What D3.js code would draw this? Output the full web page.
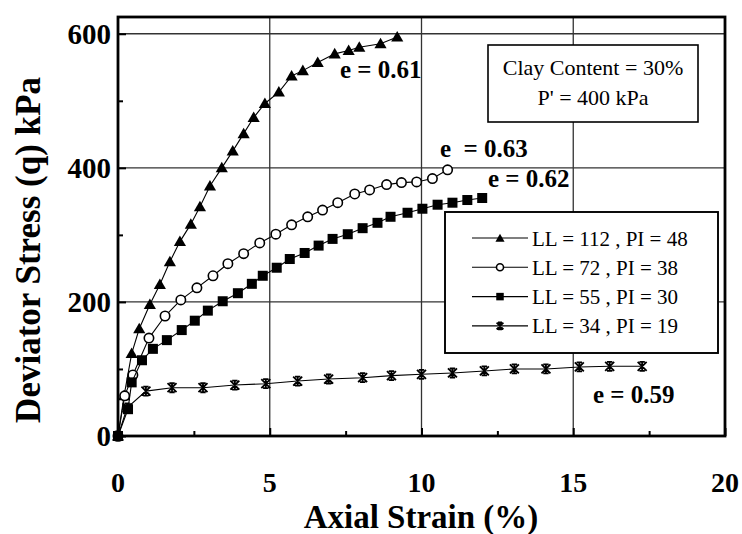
<!DOCTYPE html>
<html>
<head>
<meta charset="utf-8">
<script src="https://cdn.jsdelivr.net/npm/d3@7"></script>
<style>
  html, body { margin: 0; padding: 0; background: #fff; }
  svg { display: block; }
  text { font-family: "Liberation Serif", "Times New Roman", serif; fill: #000; }
</style>
</head>
<body>
<svg id="chart" width="742" height="534"></svg>
<script>
// Triaxial test results: deviator stress vs axial strain for four clays
const seriesNames = ["LL = 112 , PI = 48", "LL = 72 , PI = 38", "LL = 55 , PI = 30", "LL = 34 , PI = 19"];
const seriesKeys = ["triangle", "circle", "square", "star"];

const strainLL112 = [0, 0.2, 0.45, 0.7, 1.05, 1.38, 1.71, 2.04, 2.4, 2.7, 3.03, 3.42, 3.78, 4.14, 4.47, 4.84, 5.3, 5.72, 6.09, 6.58, 7.14, 7.6, 7.95, 8.65, 9.2];
const stressLL112 = [0, 60, 123, 160, 196, 226, 260, 290, 316, 342, 373, 400, 425, 451, 475, 496, 513, 537, 545, 557, 570, 575, 580, 585, 595];

const strainLL72 = [0, 0.22, 0.49, 1.02, 1.55, 2.07, 2.6, 3.13, 3.62, 4.14, 4.67, 5.2, 5.72, 6.25, 6.74, 7.24, 7.8, 8.29, 8.85, 9.34, 9.84, 10.36, 10.86];
const stressLL72 = [0, 60, 91, 146, 179, 203, 221, 239, 257, 272, 288, 301, 315, 327, 337, 348, 361, 367, 375, 378, 379, 384, 397];

const strainLL55 = [0, 0.33, 0.45, 0.79, 1.15, 1.61, 2.1, 2.53, 2.96, 3.45, 3.95, 4.41, 4.77, 5.23, 5.66, 6.15, 6.61, 7.07, 7.57, 8.06, 8.55, 8.98, 9.54, 10.03, 10.53, 11.02, 11.51, 12.0];
const stressLL55 = [0, 40, 80, 113, 130, 143, 158, 172, 187, 201, 213, 227, 239, 251, 264, 273, 284, 294, 301, 310, 318, 327, 333, 339, 345, 348, 352, 355];

const strainLL34 = [0, 0.3, 0.92, 1.78, 2.8, 3.85, 4.87, 5.92, 6.94, 8.06, 9.01, 10.0, 11.02, 12.07, 13.06, 14.1, 15.2, 16.2, 17.27];
const stressLL34 = [0, 42, 67, 72, 72, 76, 78, 82, 85, 87, 90, 92, 94, 97, 100, 100, 103, 104, 104];

const xTicks = [0, 5, 10, 15, 20];
const yTicks = [0, 200, 400, 600];
const xMinorTicks = [2.5, 7.5, 12.5, 17.5];
const yMinorTicks = [100, 300, 500];

const voidRatioLabels = ["e = 0.61", "e  = 0.63", "e = 0.62", "e = 0.59"];
const infoLines = ["Clay Content = 30%", "P' = 400 kPa"];

const series = [
  { name: seriesNames[0], key: seriesKeys[0], x: strainLL112, y: stressLL112 },
  { name: seriesNames[1], key: seriesKeys[1], x: strainLL72, y: stressLL72 },
  { name: seriesNames[2], key: seriesKeys[2], x: strainLL55, y: stressLL55 },
  { name: seriesNames[3], key: seriesKeys[3], x: strainLL34, y: stressLL34 }
];

const svg = d3.select("#chart");
const plotLeft = 118, plotRight = 725, plotTop = 17, plotBottom = 436;

const x = d3.scaleLinear().domain([0, 20]).range([plotLeft, plotRight]);
const y = d3.scaleLinear().domain([0, 625]).range([plotBottom, plotTop]);

// grid lines
const grid = svg.append("g").attr("stroke", "#333").attr("stroke-width", 1.3);
grid.selectAll("line.gx").data([5, 10, 15]).join("line")
  .attr("x1", d => x(d)).attr("x2", d => x(d)).attr("y1", plotTop).attr("y2", plotBottom);
grid.selectAll("line.gy").data([200, 400, 600]).join("line")
  .attr("x1", plotLeft).attr("x2", plotRight).attr("y1", d => y(d)).attr("y2", d => y(d));

// axes with inward ticks
const xAxis = svg.append("g").attr("transform", `translate(0,${plotBottom})`)
  .call(d3.axisBottom(x).tickValues(xTicks).tickSize(-8).tickFormat(""));
const xMinor = svg.append("g").attr("transform", `translate(0,${plotBottom})`)
  .call(d3.axisBottom(x).tickValues(xMinorTicks).tickSize(-5).tickFormat(""));
const yAxis = svg.append("g").attr("transform", `translate(${plotLeft},0)`)
  .call(d3.axisLeft(y).tickValues(yTicks).tickSize(-8).tickFormat(""));
const yMinor = svg.append("g").attr("transform", `translate(${plotLeft},0)`)
  .call(d3.axisLeft(y).tickValues(yMinorTicks).tickSize(-5).tickFormat(""));
[xAxis, xMinor, yAxis, yMinor].forEach(g => {
  g.select(".domain").remove();
  g.selectAll(".tick line").attr("stroke", "#000").attr("stroke-width", 2);
});

// tick labels
svg.append("g").selectAll("text").data(xTicks).join("text")
  .attr("x", d => x(d)).attr("y", 492)
  .attr("text-anchor", "middle")
  .style("font-size", "28px").style("font-weight", "bold")
  .text(d => d);
svg.append("g").selectAll("text").data(yTicks).join("text")
  .attr("x", 111).attr("y", d => y(d) + 10)
  .attr("text-anchor", "end")
  .style("font-size", "29px").style("font-weight", "bold")
  .text(d => d);

// axis titles
svg.append("text")
  .attr("x", 421).attr("y", 528)
  .attr("text-anchor", "middle")
  .style("font-size", "33px").style("font-weight", "bold")
  .text("Axial Strain (%)");
svg.append("text")
  .attr("transform", "translate(40,250) rotate(-90)")
  .attr("text-anchor", "middle")
  .style("font-size", "35px").style("font-weight", "bold")
  .text("Deviator Stress (q) kPa");

// marker shapes
function starPath(r) {
  return `M${-r},${-r}L${r},${r}M${-r},${r}L${r},${-r}M0,${-r * 1.2}L0,${r * 1.2}M${-r * 0.6},${-r}L${r * 0.6},${-r}M${-r * 0.6},${r}L${r * 0.6},${r}`;
}
function drawMarker(sel, key, scale) {
  const s = scale || 1;
  if (key === "triangle") {
    sel.append("path").attr("d", d3.symbol(d3.symbolTriangle, 64 * s * s)())
      .attr("transform", "translate(0,1)").attr("fill", "#000");
  } else if (key === "circle") {
    sel.append("circle").attr("r", 4.7 * s).attr("fill", "#fff")
      .attr("stroke", "#000").attr("stroke-width", 1.6);
  } else if (key === "square") {
    const h = 5 * s;
    sel.append("rect").attr("x", -h).attr("y", -h).attr("width", 2 * h).attr("height", 2 * h).attr("fill", "#000");
  } else {
    sel.append("path").attr("d", starPath(4.5 * s)).attr("fill", "none")
      .attr("stroke", "#000").attr("stroke-width", 1.8);
  }
}

// curves and markers
const line = d3.line().x(d => x(d[0])).y(d => y(d[1]));
series.forEach(s => {
  const pts = s.x.map((v, i) => [v, s.y[i]]);
  svg.append("path").datum(pts).attr("d", line)
    .attr("fill", "none").attr("stroke", "#000").attr("stroke-width", 1.1);
  svg.append("g").selectAll("g").data(pts).join("g")
    .attr("transform", d => `translate(${x(d[0])},${y(d[1])})`)
    .each(function () { drawMarker(d3.select(this), s.key, 1); });
});

// void ratio annotations
const annoX = [340, 440, 488, 593];
const annoY = [78, 157, 187, 403];
svg.append("g").selectAll("text").data(voidRatioLabels).join("text")
  .attr("x", (d, i) => annoX[i]).attr("y", (d, i) => annoY[i])
  .style("font-size", "25px").style("font-weight", "bold").style("white-space", "pre")
  .text(d => d);

// test condition box
svg.append("rect").attr("x", 488).attr("y", 45).attr("width", 210).attr("height", 77)
  .attr("fill", "#fff").attr("stroke", "#000").attr("stroke-width", 1.6);
svg.append("g").selectAll("text").data(infoLines).join("text")
  .attr("x", 593).attr("y", (d, i) => 75 + i * 30)
  .attr("text-anchor", "middle").style("font-size", "22px")
  .text(d => d);

// legend
const legend = svg.append("g");
legend.append("rect").attr("x", 445).attr("y", 212).attr("width", 273).attr("height", 141)
  .attr("fill", "#fff").attr("stroke", "#000").attr("stroke-width", 1.9);
const rows = legend.selectAll("g.row").data(series).join("g")
  .attr("transform", (d, i) => `translate(0,${238 + i * 29.3})`);
rows.append("line").attr("x1", 472).attr("x2", 528).attr("y1", 0).attr("y2", 0)
  .attr("stroke", "#000").attr("stroke-width", 1.1);
rows.each(function (d) {
  const g = d3.select(this).append("g").attr("transform", "translate(500,0)");
  drawMarker(g, d.key, 0.75);
});
rows.append("text").attr("x", 532).attr("y", 7.5)
  .style("font-size", "21px")
  .text(d => d.name);

// plot frame
svg.append("rect").attr("x", plotLeft).attr("y", plotTop).attr("width", plotRight - plotLeft).attr("height", plotBottom - plotTop)
  .attr("fill", "none").attr("stroke", "#000").attr("stroke-width", 2.8);
</script>
</body>
</html>
